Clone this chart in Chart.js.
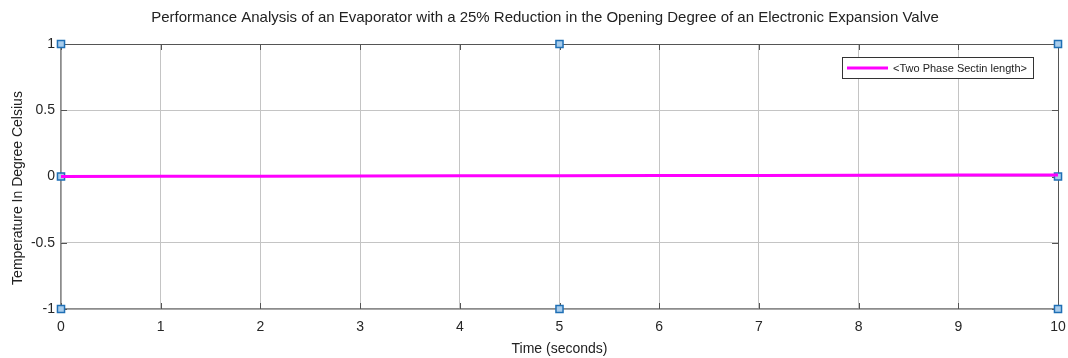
<!DOCTYPE html>
<html>
<head>
<meta charset="utf-8">
<script src="https://cdn.jsdelivr.net/npm/chart.js@4.4.1/dist/chart.umd.min.js"></script>
<style>
  html, body { margin: 0; padding: 0; background: #fff; }
  #wrap { width: 1068px; height: 358px; }
</style>
</head>
<body>
<div id="wrap"><canvas id="chart" width="1068" height="358"></canvas></div>
<script>
// data
const timeSeconds = [0, 1, 2, 3, 4, 5, 6, 7, 8, 9, 10];
const twoPhaseLength = [0, 0.001, 0.002, 0.004, 0.005, 0.006, 0.007, 0.008, 0.010, 0.011, 0.012];
const markerX = [0, 0, 0, 5, 5, 10, 10, 10];
const markerY = [1, 0, -1, 1, -1, 1, 0, -1];
const xTicks = [0, 1, 2, 3, 4, 5, 6, 7, 8, 9, 10];
const yTicks = [-1, -0.5, 0, 0.5, 1];

const seriesLabel = '<Two Phase Sectin length>';
const chartTitle = 'Performance Analysis of an Evaporator with a 25% Reduction in the Opening Degree of an Electronic Expansion Valve';
const yTitle = 'Temperature In Degree Celsius';
const FONT = '"Liberation Sans", Arial, Helvetica, sans-serif';

// box around the axes, inward ticks, titles and legend, MATLAB style
const framePlugin = {
  id: 'frame',
  beforeDatasetsDraw(chart) {
    const { ctx, chartArea: a } = chart;
    ctx.save();
    ctx.strokeStyle = '#555';
    ctx.lineWidth = 1;
    ctx.beginPath();
    ctx.moveTo(a.left, a.top + 0.5);
    ctx.lineTo(a.right + 0.5, a.top + 0.5);
    ctx.lineTo(a.right + 0.5, a.bottom);
    ctx.stroke();
    yTicks.forEach(v => {
      const y = Math.round(chart.scales.y.getPixelForValue(v)) + 0.5;
      ctx.beginPath();
      ctx.moveTo(a.right - 6, y); ctx.lineTo(a.right, y);
      ctx.moveTo(a.left, y); ctx.lineTo(a.left + 6, y);
      ctx.stroke();
    });
    xTicks.forEach(v => {
      const x = Math.round(chart.scales.x.getPixelForValue(v)) + 0.5;
      ctx.beginPath();
      ctx.moveTo(x, a.bottom); ctx.lineTo(x, a.bottom - 6);
      ctx.moveTo(x, a.top); ctx.lineTo(x, a.top + 6);
      ctx.stroke();
    });
    ctx.restore();
  },
  afterDraw(chart) {
    const { ctx, chartArea: a } = chart;
    ctx.save();
    ctx.fillStyle = '#222';
    ctx.textAlign = 'center';
    ctx.textBaseline = 'middle';
    // main title
    ctx.font = '15px ' + FONT;
    ctx.fillText(chartTitle, 545, 18);
    // y axis title
    ctx.translate(18, 188);
    ctx.rotate(-Math.PI / 2);
    ctx.font = '14px ' + FONT;
    ctx.fillText(yTitle, 0, 0);
    ctx.restore();

    // legend
    const w = 191, h = 21;
    const x = a.right - 25 - w, y = a.top + 13;
    ctx.save();
    ctx.fillStyle = '#fff';
    ctx.fillRect(x, y, w, h);
    ctx.strokeStyle = '#333';
    ctx.lineWidth = 1;
    ctx.strokeRect(x + 0.5, y + 0.5, w, h);
    ctx.strokeStyle = '#ff00ff';
    ctx.lineWidth = 3;
    ctx.beginPath();
    ctx.moveTo(x + 5, y + h / 2 + 0.5);
    ctx.lineTo(x + 46, y + h / 2 + 0.5);
    ctx.stroke();
    ctx.fillStyle = '#222';
    ctx.font = '11px ' + FONT;
    ctx.textBaseline = 'middle';
    ctx.fillText(seriesLabel, x + 51, y + h / 2 + 1);
    ctx.restore();
  }
};

new Chart(document.getElementById('chart').getContext('2d'), {
  type: 'line',
  data: {
    datasets: [
      {
        label: seriesLabel,
        data: timeSeconds.map((t, i) => ({ x: t, y: twoPhaseLength[i] })),
        borderColor: '#ff00ff',
        borderWidth: 3,
        pointRadius: 0,
        fill: false,
        tension: 0
      },
      {
        label: 'markers',
        type: 'scatter',
        data: markerX.map((t, i) => ({ x: t, y: markerY[i] })),
        pointStyle: 'rect',
        pointRadius: 5,
        borderWidth: 1.5,
        borderColor: '#1f6fb5',
        backgroundColor: '#a9cdec',
        clip: false
      }
    ]
  },
  options: {
    responsive: false,
    animation: false,
    layout: { padding: { left: 0, right: 10, top: 44, bottom: 0 } },
    plugins: {
      legend: { display: false },
      tooltip: { enabled: false },
      title: { display: false }
    },
    scales: {
      x: {
        type: 'linear',
        min: 0,
        max: 10,
        afterBuildTicks: s => { s.ticks = xTicks.map(v => ({ value: v })); },
        afterFit: s => { s.height = 49; s.paddingLeft = 0; s.paddingRight = 0; },
        ticks: {
          color: '#262626',
          font: { family: FONT, size: 14 },
          padding: 10
        },
        grid: { color: '#c4c4c4', lineWidth: 1, drawTicks: false },
        border: { color: '#8c8c8c', width: 1.5 },
        title: {
          display: true,
          text: 'Time (seconds)',
          color: '#222',
          font: { family: FONT, size: 14 },
          padding: { top: 0, bottom: 0 }
        }
      },
      y: {
        type: 'linear',
        min: -1,
        max: 1,
        afterBuildTicks: s => { s.ticks = yTicks.map(v => ({ value: v })); },
        afterFit: s => { s.width = 61; s.paddingTop = 0; s.paddingBottom = 0; },
        ticks: {
          color: '#262626',
          font: { family: FONT, size: 14 },
          padding: 6,
          callback: v => String(v)
        },
        grid: { color: '#c4c4c4', lineWidth: 1, drawTicks: false },
        border: { color: '#8c8c8c', width: 1.5 },
        title: { display: false }
      }
    }
  },
  plugins: [framePlugin]
});
</script>
</body>
</html>
